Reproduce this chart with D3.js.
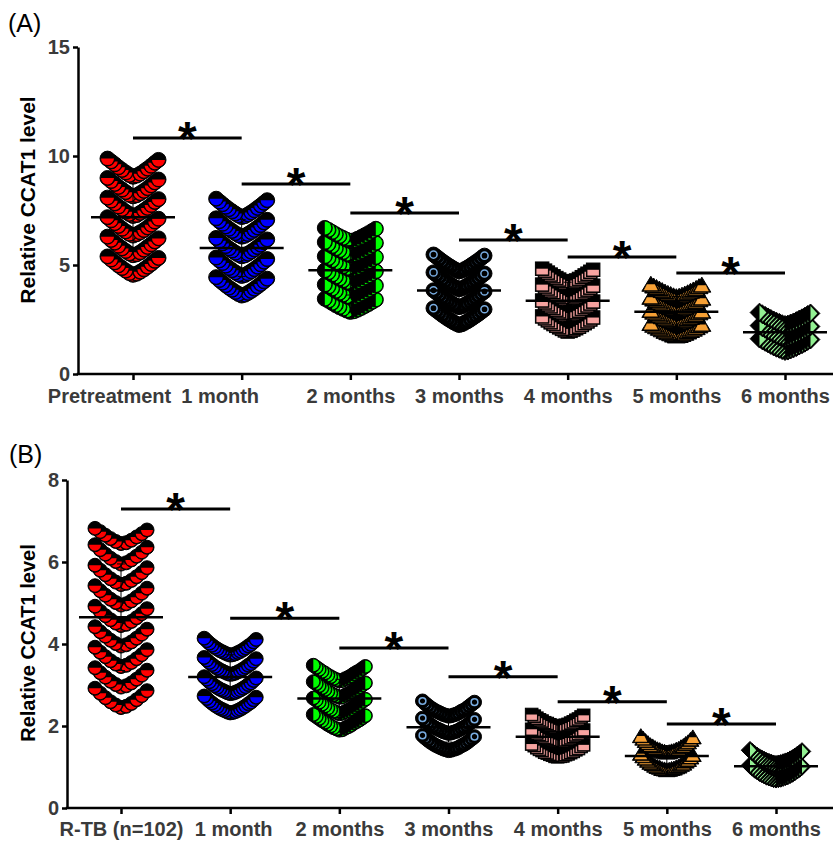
<!DOCTYPE html>
<html>
<head>
<meta charset="utf-8">
<script src="https://cdnjs.cloudflare.com/ajax/libs/d3/7.8.5/d3.min.js"></script>
<style>
  body { margin: 0; background: #fff; }
  text { font-family: "Liberation Sans", Arial, sans-serif; }
</style>
</head>
<body>
<div id="chart"></div>
<script>
// ---- data ----
var categoriesA = ['Pretreatment', '1 month', '2 months', '3 months', '4 months', '5 months', '6 months'];
var categoriesB = ['R-TB (n=102)', '1 month', '2 months', '3 months', '4 months', '5 months', '6 months'];
var yTicksA = [0, 5, 10, 15];
var yTicksB = [0, 2, 4, 6, 8];
// height of the significance brackets (value units)
var sigA = [10.83, 8.72, 7.39, 6.15, 5.37, 4.63];
var sigB = [7.29, 4.63, 3.90, 3.20, 2.59, 2.05];

// panel A
var preA = [4.55,4.60,4.63,4.69,4.74,4.80,4.86,4.92,4.98,5.05,5.12,5.19,5.25,5.32,5.39,
  5.45,5.49,5.53,5.58,5.64,5.70,5.76,5.83,5.88,5.95,6.02,6.08,6.15,6.22,6.30,
  6.35,6.41,6.43,6.50,6.54,6.60,6.66,6.72,6.79,6.85,6.92,6.99,7.05,7.12,7.19,
  7.25,7.29,7.34,7.39,7.44,7.50,7.57,7.62,7.68,7.75,7.82,7.89,7.95,8.02,8.09,
  8.15,8.20,8.22,8.29,8.34,8.40,8.46,8.52,8.58,8.65,8.72,8.79,8.85,8.92,8.99,
  9.05,9.10,9.13,9.19,9.24,9.30,9.36,9.42,9.48,9.55,9.62,9.69,9.75,9.82,9.88];
var m1A = [3.60,3.64,3.67,3.72,3.76,3.81,3.86,3.91,3.96,4.02,4.07,4.13,4.19,4.25,4.31,4.37,4.44,
  4.50,4.54,4.57,4.62,4.66,4.71,4.76,4.81,4.86,4.92,4.97,5.03,5.09,5.15,5.21,5.27,5.34,
  5.40,5.44,5.47,5.52,5.56,5.61,5.66,5.71,5.76,5.82,5.87,5.93,5.99,6.05,6.11,6.17,6.24,
  6.30,6.34,6.37,6.42,6.46,6.51,6.56,6.61,6.66,6.72,6.77,6.83,6.89,6.95,7.01,7.07,7.14,
  7.20,7.24,7.27,7.32,7.36,7.41,7.46,7.51,7.56,7.62,7.67,7.73,7.79,7.85,7.91,7.97,8.04];
var m2A = [2.85,2.88,2.91,2.95,2.99,3.03,3.07,3.12,3.16,3.21,3.26,3.31,3.36,3.41,3.45,
  3.50,3.53,3.56,3.60,3.64,3.68,3.72,3.77,3.81,3.86,3.91,3.96,4.01,4.06,4.10,
  4.15,4.18,4.21,4.25,4.29,4.33,4.37,4.42,4.46,4.51,4.56,4.61,4.66,4.71,4.75,
  4.80,4.83,4.86,4.90,4.94,4.98,5.02,5.07,5.11,5.16,5.21,5.26,5.31,5.36,5.40,
  5.45,5.48,5.51,5.55,5.59,5.63,5.67,5.72,5.76,5.81,5.86,5.91,5.96,6.01,6.05,
  6.10,6.13,6.16,6.20,6.24,6.28,6.32,6.37,6.41,6.46,6.51,6.56,6.61,6.66,6.70];
var m3A = [2.25,2.28,2.31,2.35,2.38,2.42,2.46,2.50,2.54,2.59,2.63,2.68,2.72,2.77,2.82,2.87,2.92,2.97,3.02,
  3.07,3.10,3.13,3.17,3.20,3.24,3.28,3.32,3.36,3.41,3.45,3.50,3.54,3.59,3.64,3.69,3.74,3.79,3.84,
  3.89,3.92,3.95,3.99,4.02,4.06,4.10,4.14,4.18,4.23,4.27,4.32,4.36,4.41,4.46,4.51,4.56,4.61,4.66,
  4.71,4.74,4.77,4.81,4.84,4.88,4.92,4.96,5.00,5.05,5.09,5.14,5.18,5.23,5.28,5.33,5.38,5.43,5.48];
var m4A = [1.95,1.98,2.00,2.04,2.07,2.10,2.14,2.17,2.21,2.25,2.29,2.33,2.37,2.41,2.46,2.50,2.55,2.59,2.64,
  2.68,2.71,2.73,2.77,2.80,2.83,2.87,2.90,2.94,2.98,3.02,3.06,3.10,3.14,3.19,3.23,3.28,3.32,3.37,
  3.41,3.44,3.46,3.50,3.53,3.56,3.60,3.63,3.67,3.71,3.75,3.79,3.83,3.87,3.92,3.96,4.01,4.05,4.10,
  4.14,4.17,4.19,4.23,4.26,4.29,4.33,4.36,4.40,4.44,4.48,4.52,4.56,4.60,4.65,4.69,4.74,4.78,4.83];
var m5A = [1.70,1.72,1.74,1.77,1.80,1.82,1.85,1.88,1.91,1.95,1.98,2.01,2.05,2.08,2.12,2.16,2.19,2.23,2.27,
  2.30,2.32,2.34,2.37,2.40,2.42,2.45,2.48,2.51,2.55,2.58,2.61,2.65,2.68,2.72,2.76,2.79,2.83,2.87,
  2.90,2.92,2.94,2.97,3.00,3.02,3.05,3.08,3.11,3.15,3.18,3.21,3.25,3.28,3.32,3.36,3.39,3.43,3.47,
  3.50,3.52,3.54,3.57,3.60,3.62,3.65,3.68,3.71,3.75,3.78,3.81,3.85,3.88,3.92,3.96,3.99,4.03,4.07];
var m6A = [1.05,1.07,1.09,1.12,1.15,1.17,1.20,1.23,1.26,1.30,1.33,1.36,1.40,1.43,1.47,1.51,1.54,1.58,1.62,
  1.65,1.67,1.69,1.72,1.75,1.77,1.80,1.83,1.86,1.90,1.93,1.96,2.00,2.03,2.07,2.11,2.14,2.18,2.22,
  2.25,2.27,2.29,2.32,2.35,2.37,2.40,2.43,2.46,2.50,2.53,2.56,2.60,2.63,2.67,2.71,2.74,2.78,2.82];

// panel B
var rtbB = [2.45,2.48,2.51,2.55,2.59,2.64,2.69,2.74,2.80,2.86,2.92,
  2.95,2.98,3.01,3.05,3.09,3.14,3.19,3.24,3.30,3.36,3.42,
  3.45,3.48,3.51,3.55,3.59,3.64,3.69,3.74,3.80,3.86,3.92,
  3.95,3.98,4.01,4.05,4.09,4.14,4.19,4.24,4.30,4.36,4.42,
  4.45,4.48,4.51,4.55,4.59,4.64,4.69,4.74,4.80,4.86,4.92,
  4.95,4.98,5.01,5.05,5.09,5.14,5.19,5.24,5.30,5.36,5.42,
  5.45,5.48,5.51,5.55,5.59,5.64,5.69,5.74,5.80,5.86,5.92,
  5.95,5.98,6.01,6.05,6.09,6.14,6.19,6.24,6.30,6.36,6.42,
  6.45,6.47,6.50,6.53,6.57,6.61,6.65,6.69,6.74,6.78,6.82];
var m1B = [2.32,2.33,2.34,2.35,2.37,2.38,2.40,2.41,2.43,2.45,2.47,2.49,2.51,2.54,2.56,2.58,2.61,2.64,2.67,2.70,2.73,
  2.79,2.80,2.81,2.82,2.84,2.85,2.87,2.88,2.90,2.92,2.94,2.96,2.98,3.01,3.03,3.05,3.08,3.11,3.14,3.17,3.20,
  3.26,3.27,3.28,3.29,3.31,3.32,3.34,3.35,3.37,3.39,3.41,3.43,3.45,3.48,3.50,3.52,3.55,3.58,3.61,3.64,3.67,
  3.73,3.74,3.75,3.76,3.78,3.79,3.81,3.82,3.84,3.86,3.88,3.90,3.92,3.95,3.97,3.99,4.02,4.05,4.08,4.11,4.14];
var m2B = [1.90,1.91,1.93,1.95,1.96,1.98,2.00,2.02,2.04,2.07,2.09,2.11,2.13,2.15,2.18,2.20,2.23,2.25,2.28,
  2.30,2.31,2.33,2.35,2.36,2.38,2.40,2.42,2.44,2.47,2.49,2.51,2.53,2.55,2.58,2.60,2.63,2.65,2.68,
  2.70,2.71,2.73,2.75,2.76,2.78,2.80,2.82,2.84,2.87,2.89,2.91,2.93,2.95,2.98,3.00,3.03,3.05,3.08,
  3.10,3.11,3.13,3.15,3.16,3.18,3.20,3.22,3.24,3.27,3.29,3.31,3.33,3.35,3.38,3.40,3.43,3.45,3.48];
var m3B = [1.40,1.41,1.42,1.43,1.44,1.45,1.47,1.48,1.50,1.52,1.53,1.55,1.57,1.59,1.61,1.64,1.66,1.69,1.71,1.74,1.77,
  1.82,1.83,1.84,1.85,1.86,1.87,1.89,1.90,1.92,1.94,1.95,1.97,1.99,2.01,2.03,2.06,2.08,2.11,2.13,2.16,2.19,
  2.24,2.25,2.26,2.27,2.28,2.29,2.31,2.32,2.34,2.36,2.37,2.39,2.41,2.43,2.45,2.48,2.50,2.53,2.55,2.58,2.61];
var m4B = [1.25,1.26,1.26,1.27,1.29,1.30,1.31,1.32,1.34,1.35,1.36,1.38,1.40,1.42,1.43,1.45,1.47,1.50,1.52,1.54,1.56,
  1.61,1.62,1.62,1.63,1.65,1.66,1.67,1.68,1.70,1.71,1.72,1.74,1.76,1.78,1.79,1.81,1.83,1.86,1.88,1.90,1.92,
  1.97,1.98,1.98,1.99,2.01,2.02,2.03,2.04,2.06,2.07,2.08,2.10,2.12,2.14,2.15,2.17,2.19,2.22,2.24,2.26,2.28];
var m5B = [0.90,0.91,0.92,0.93,0.93,0.94,0.96,0.97,0.98,0.99,1.01,1.03,1.05,1.06,1.08,1.11,1.13,1.15,1.18,1.21,1.24,1.27,1.30,
  1.33,1.34,1.35,1.36,1.36,1.37,1.39,1.40,1.41,1.42,1.44,1.46,1.48,1.49,1.51,1.54,1.56,1.58,1.61,1.64,1.67,1.70,1.73];
var m6B = [0.70,0.71,0.71,0.72,0.73,0.74,0.75,0.76,0.77,0.78,0.80,0.81,0.83,0.84,0.86,0.88,0.90,0.92,0.94,0.96,0.99,1.01,1.04,
  1.07,1.08,1.08,1.09,1.10,1.11,1.12,1.13,1.14,1.15,1.17,1.18,1.20,1.21,1.23,1.25,1.27,1.29,1.31,1.33,1.36,1.38,1.41];

var seriesA = [preA, m1A, m2A, m3A, m4A, m5A, m6A];
var seriesB = [rtbB, m1B, m2B, m3B, m4B, m5B, m6B];

// ---- symbols, one per time point (same in both panels) ----
var symbols = [
  {shape: 'circleTop', color: '#ff0000'},
  {shape: 'circleTop', color: '#0000ff'},
  {shape: 'circleLeft', color: '#00ff00'},
  {shape: 'ring', color: '#79ace0'},
  {shape: 'squareTop', color: '#f7a3a0'},
  {shape: 'triangle', color: '#f6a035'},
  {shape: 'diamondLeft', color: '#93f093'}
];

var panels = [
  {label: '(A)', labelX: 8, labelY: 32, cats: categoriesA, series: seriesA, ticks: yTicksA, sig: sigA,
    yMax: 15, top: 47, bottom: 374, left: 78, xFirst: 133, xLast: 785, right: 833,
    labelShift: [-24, -22, 0, 0, 0, 0, 0],
    rowW: [0.9, 0.9, 0.65, 0.82, 0.73, 0.6, 0.6], r: 7.5, titleY: 200, titleSize: 21, pad: 9},
  {label: '(B)', labelX: 9, labelY: 463, cats: categoriesB, series: seriesB, ticks: yTicksB, sig: sigB,
    yMax: 8, top: 480, bottom: 808, left: 67, xFirst: 121, xLast: 776, right: 833,
    labelShift: [0, 3, 0, 0, 0, 0, 0],
    rowW: [0.5, 0.47, 0.4, 0.42, 0.36, 0.43, 0.37], r: 7, titleY: 643, titleSize: 20, pad: 8}
];

var W = 838, H = 841;
var svg = d3.select('#chart').append('svg').attr('width', W).attr('height', H);

// sort values, cut into rows of one bin width, spread each row outwards from the centre
function swarm(values, binW, halfW, r) {
  var v = values.slice().sort(d3.ascending);
  var rows = [], cur = null;
  v.forEach(function (d) {
    if (!cur || d >= cur.start + binW - 0.001) {
      cur = {start: d, vals: []};
      rows.push(cur);
    }
    cur.vals.push(d);
  });
  var maxN = d3.max(rows, function (row) { return row.vals.length; });
  var step = (halfW - r) / Math.ceil((maxN - 1) / 2);
  var pts = [];
  rows.forEach(function (row) {
    row.vals.forEach(function (d, k) {
      var off = k === 0 ? 0 : (k % 2 ? 1 : -1) * Math.ceil(k / 2) * step;
      pts.push({value: d, dx: off});
    });
  });
  return pts;
}

function marker(g, sym, r) {
  var c = sym.color, s, h, a;
  if (sym.shape === 'circleTop' || sym.shape === 'circleLeft' || sym.shape === 'ring') {
    g.append('circle').attr('r', r).attr('fill', '#000').attr('stroke', '#000').attr('stroke-width', 1);
    if (sym.shape === 'circleTop') {
      g.append('path').attr('d', 'M' + (-r + 1) + ',0A' + (r - 1) + ',' + (r - 1) + ' 0 0 0 ' + (r - 1) + ',0Z').attr('fill', c);
    } else if (sym.shape === 'circleLeft') {
      g.append('path').attr('d', 'M0,' + (-r + 1) + 'A' + (r - 1) + ',' + (r - 1) + ' 0 0 1 0,' + (r - 1) + 'Z').attr('fill', c);
    } else {
      g.append('circle').attr('r', r * 0.48).attr('fill', 'none').attr('stroke', c).attr('stroke-width', 1.5);
    }
  } else if (sym.shape === 'squareTop') {
    s = r * 0.9;
    g.append('rect').attr('x', -s).attr('y', -s).attr('width', 2 * s).attr('height', 2 * s)
      .attr('fill', '#000').attr('stroke', '#000').attr('stroke-width', 1);
    g.append('rect').attr('x', -s + 1).attr('y', 0).attr('width', 2 * s - 2).attr('height', s - 1).attr('fill', c);
  } else if (sym.shape === 'triangle') {
    a = r * 1.2; h = r * 2;
    g.append('path').attr('d', 'M0,' + (-h * 0.6) + 'L' + a + ',' + (h * 0.4) + 'L' + (-a) + ',' + (h * 0.4) + 'Z')
      .attr('fill', '#000').attr('stroke', '#000').attr('stroke-width', 1);
    g.append('path').attr('d', 'M' + (-a * 0.55 + 1) + ',-1L' + (a * 0.55 - 1) + ',-1L' + (a - 2) + ',' + (h * 0.4 - 1) + 'L' + (-a + 2) + ',' + (h * 0.4 - 1) + 'Z')
      .attr('fill', c);
  } else if (sym.shape === 'diamondLeft') {
    a = r * 1.25;
    g.append('path').attr('d', 'M0,' + (-a) + 'L' + a + ',0L0,' + a + 'L' + (-a) + ',0Z')
      .attr('fill', '#000').attr('stroke', '#000').attr('stroke-width', 1);
    g.append('path').attr('d', 'M0,' + (-a + 2) + 'L' + (a - 2.5) + ',0L0,' + (a - 2) + 'Z').attr('fill', c);
  }
}

panels.forEach(function (p) {
  var y = d3.scaleLinear().domain([0, p.yMax]).range([p.bottom, p.top]);
  var x = d3.scalePoint().domain(p.cats).range([p.xFirst, p.xLast]);
  var g = svg.append('g');

  // points
  p.series.forEach(function (vals, i) {
    var pts = swarm(vals, p.rowW[i], 33, p.r);
    var cx = x(p.cats[i]);
    g.append('g').selectAll('g')
      .data(pts)
      .enter()
      .append('g')
      .attr('transform', function (d) { return 'translate(' + (cx + d.dx) + ',' + y(d.value) + ')'; })
      .each(function () { marker(d3.select(this), symbols[i], p.r); });
  });

  // mean line and SD bar
  p.series.forEach(function (vals, i) {
    var cx = x(p.cats[i]), m = d3.mean(vals), sd = d3.deviation(vals);
    g.append('line').attr('x1', cx - 42).attr('x2', cx + 42).attr('y1', y(m)).attr('y2', y(m))
      .attr('stroke', '#000').attr('stroke-width', 2.5);
    g.append('path')
      .attr('d', 'M' + cx + ',' + y(m - sd) + 'V' + y(m + sd) +
        'M' + (cx - 4) + ',' + y(m + sd) + 'H' + (cx + 4) +
        'M' + (cx - 4) + ',' + y(m - sd) + 'H' + (cx + 4))
      .attr('fill', 'none').attr('stroke', '#000').attr('stroke-width', 1);
  });

  // significance brackets
  p.sig.forEach(function (v, i) {
    var x1 = x(p.cats[i]), x2 = x(p.cats[i + 1]);
    g.append('line').attr('x1', x1).attr('x2', x2).attr('y1', y(v)).attr('y2', y(v))
      .attr('stroke', '#000').attr('stroke-width', 3);
    g.append('text').attr('x', (x1 + x2) / 2).attr('y', y(v) + 17)
      .attr('text-anchor', 'middle').style('font-size', '48px').style('font-weight', 'bold')
      .text('*');
  });

  // axes
  var yAxis = g.append('g').attr('transform', 'translate(' + p.left + ',0)')
    .call(d3.axisLeft(y).tickValues(p.ticks).tickSize(5).tickSizeOuter(0).tickPadding(3));
  var xAxis = g.append('g').attr('transform', 'translate(0,' + p.bottom + ')')
    .call(d3.axisBottom(x).tickSize(6).tickSizeOuter(0).tickPadding(p.pad));
  xAxis.select('.domain').remove();
  xAxis.selectAll('.tick text').attr('dx', function (d, i) { return p.labelShift[i]; });
  g.append('line').attr('x1', p.left - 1.25).attr('x2', p.right).attr('y1', p.bottom).attr('y2', p.bottom)
    .attr('stroke', '#000').attr('stroke-width', 2.5);
  [yAxis, xAxis].forEach(function (ax) {
    ax.selectAll('path, line').attr('stroke', '#000').attr('stroke-width', 2.5);
    ax.selectAll('text').attr('fill', '#3a3a3a')
      .style('font-size', '20px').style('font-weight', 'bold')
      .style('font-family', '"Liberation Sans", Arial, sans-serif');
  });

  // axis title and panel letter
  g.append('text').attr('transform', 'translate(35,' + p.titleY + ') rotate(-90)')
    .attr('text-anchor', 'middle').style('font-size', p.titleSize + 'px').style('font-weight', 'bold')
    .text('Relative CCAT1 level');
  g.append('text').attr('x', p.labelX).attr('y', p.labelY).style('font-size', '25px').text(p.label);
});
</script>
</body>
</html>
